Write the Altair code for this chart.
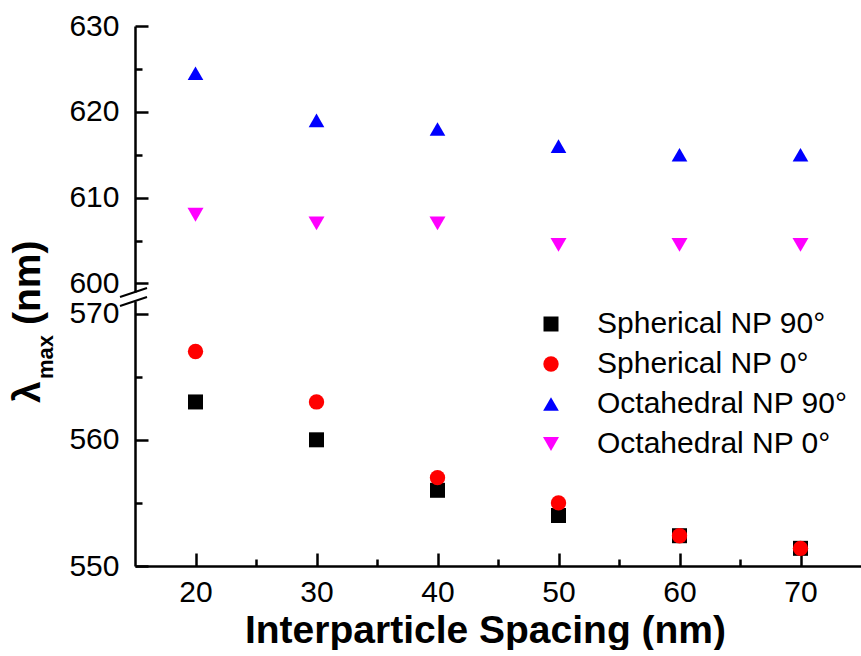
import altair as alt
import pandas as pd

# ---- data ----
spacing = [20, 30, 40, 50, 60, 70]
sph_90 = [563, 560, 556, 554, 552.4, 551.4]
sph_0 = [567, 563, 557, 555, 552.4, 551.4]
oct_90 = [624.5, 619, 618, 616, 615, 615]
oct_0 = [608, 607, 607, 604.5, 604.5, 604.5]

series_names = ["Spherical NP 90°", "Spherical NP 0°", "Octahedral NP 90°", "Octahedral NP 0°"]
series_colors = ["#000000", "#ff0000", "#0000ff", "#ff00ff"]
series_shapes = ["square", "circle", "triangle-up", "triangle-down"]
series_sizes = [225, 256, 380, 380]

x_labels = [20, 30, 40, 50, 60, 70]
x_ticks = [20, 25, 30, 35, 40, 45, 50, 55, 60, 65, 70]
top_labels = [600, 610, 620, 630]
top_ticks = [600, 605, 610, 615, 620, 625, 630]
bottom_labels = [550, 560, 570]
bottom_ticks = [550, 555, 560, 565, 570]
x_title = "Interparticle Spacing (nm)"
y_title_parts = ["λ", "max", "(nm)"]

FONT = "Liberation Sans"
W = 726
H_TOP = 266
H_BOT = 265


def frame(names, values):
    rows = []
    for name, vals in zip(names, values):
        for xv, yv in zip(spacing, vals):
            rows.append({"spacing": xv, "lam": yv, "series": name})
    return pd.DataFrame(rows)


bottom_df = frame(series_names[:2], [sph_90, sph_0])
top_df = frame(series_names[2:], [oct_90, oct_0])

x_scale = alt.Scale(domain=[15, 75], nice=False, zero=False)
major_minor = {"condition": {"test": "datum.value % 10 === 0", "value": 13}, "value": 7}


def series_enc(show_legend):
    if show_legend:
        leg = alt.Legend(
            orient="none", legendX=401, legendY=8, title=None,
            labelFont=FONT, labelFontSize=30, labelColor="black", labelLimit=500,
            labelOffset=31, rowPadding=10, padding=0, symbolOpacity=1,
            symbolStrokeWidth=0,
        )
    else:
        leg = None
    return dict(
        color=alt.Color("series:N", scale=alt.Scale(domain=series_names, range=series_colors), legend=leg),
        shape=alt.Shape("series:N", scale=alt.Scale(domain=series_names, range=series_shapes), legend=leg),
        size=alt.Size("series:N", scale=alt.Scale(domain=series_names, range=series_sizes), legend=leg),
    )


axis_common = dict(grid=False, domainColor="black", domainWidth=2.5, tickColor="black",
                   tickWidth=2.5, labelFont=FONT, labelFontSize=30, labelColor="black")

# ---------------- top panel ----------------
top_y_scale = alt.Scale(domain=[599, 630], nice=False, zero=False)
top_points = alt.Chart(top_df).mark_point(filled=True, opacity=1, strokeWidth=0).encode(
    x=alt.X("spacing:Q", scale=x_scale, axis=None),
    y=alt.Y("lam:Q", scale=top_y_scale,
            axis=alt.Axis(orient="left", values=top_labels, ticks=False, tickSize=0,
                          labelPadding=16, title=None, **axis_common)),
    **series_enc(False),
)
top_tick_layer = alt.Chart(top_df).mark_point(opacity=0).encode(
    x=alt.X("spacing:Q", scale=x_scale, axis=None),
    y=alt.Y("lam:Q", scale=top_y_scale,
            axis=alt.Axis(orient="right", offset=-W, values=top_ticks, labels=False, domain=False,
                          tickSize=major_minor, tickColor="black", tickWidth=2.5, grid=False, title=None)),
)
top = alt.layer(top_points, top_tick_layer).resolve_axis(y="independent").properties(width=W, height=H_TOP)

# ---------------- bottom panel ----------------
bot_y_scale = alt.Scale(domain=[550, 571], nice=False, zero=False)
bot_points = alt.Chart(bottom_df).mark_point(filled=True, opacity=1, strokeWidth=0).encode(
    x=alt.X("spacing:Q", scale=x_scale,
            axis=alt.Axis(orient="bottom", values=x_labels, ticks=False, tickSize=0, labelPadding=11,
                          title=x_title, titleFont=FONT, titleFontSize=39, titleFontWeight="bold",
                          titleColor="black", titlePadding=4, titleX=350, titleAlign="center",
                          **axis_common)),
    y=alt.Y("lam:Q", scale=bot_y_scale,
            axis=alt.Axis(orient="left", values=bottom_labels, ticks=False, tickSize=0,
                          labelPadding=16, title=None, **axis_common)),
    **series_enc(True),
)
bot_tick_layer = alt.Chart(bottom_df).mark_point(opacity=0).encode(
    x=alt.X("spacing:Q", scale=x_scale,
            axis=alt.Axis(orient="top", offset=-H_BOT, values=x_ticks, labels=False, domain=False,
                          tickSize=major_minor, tickColor="black", tickWidth=2.5, grid=False, title=None)),
    y=alt.Y("lam:Q", scale=bot_y_scale,
            axis=alt.Axis(orient="right", offset=-W, values=bottom_ticks, labels=False, domain=False,
                          tickSize=major_minor, tickColor="black", tickWidth=2.5, grid=False, title=None)),
)

# y title pieces (lambda with subscript "max")
title_df = pd.DataFrame({"part": y_title_parts})
lam_text = alt.Chart(title_df.iloc[[0]]).mark_text(
    font=FONT, fontSize=39, fontWeight="bold", angle=270, align="left", baseline="alphabetic", color="black"
).encode(x=alt.value(-95), y=alt.value(102), text="part:N")
sub_text = alt.Chart(title_df.iloc[[1]]).mark_text(
    font=FONT, fontSize=22, fontWeight="bold", angle=270, align="left", baseline="alphabetic", color="black"
).encode(x=alt.value(-82), y=alt.value(78), text="part:N")
nm_text = alt.Chart(title_df.iloc[[2]]).mark_text(
    font=FONT, fontSize=39, fontWeight="bold", angle=270, align="left", baseline="alphabetic", color="black"
).encode(x=alt.value(-95), y=alt.value(24), text="part:N")

# axis-break slashes
slash_df = pd.DataFrame({"k": [0]})
slash1 = alt.Chart(slash_df).mark_rule(color="black", strokeWidth=2).encode(
    x=alt.value(-15), y=alt.value(-4), x2=alt.value(12), y2=alt.value(-13))
slash2 = alt.Chart(slash_df).mark_rule(color="black", strokeWidth=2).encode(
    x=alt.value(-15), y=alt.value(5), x2=alt.value(12), y2=alt.value(-4))

bottom = alt.layer(bot_points, bot_tick_layer, lam_text, sub_text, nm_text, slash1, slash2).resolve_axis(
    x="independent", y="independent").properties(width=W, height=H_BOT)

chart = alt.vconcat(top, bottom, spacing=9, bounds="flush").resolve_scale(
    y="independent", color="independent", shape="independent", size="independent"
).resolve_legend(
    color="independent", shape="independent", size="independent"
).properties(
    padding={"left": 8, "top": 11, "right": 0, "bottom": 0}
).configure_view(stroke="transparent", strokeWidth=0)

chart.save("out.html", embed_options={"renderer": "svg", "actions": False})
